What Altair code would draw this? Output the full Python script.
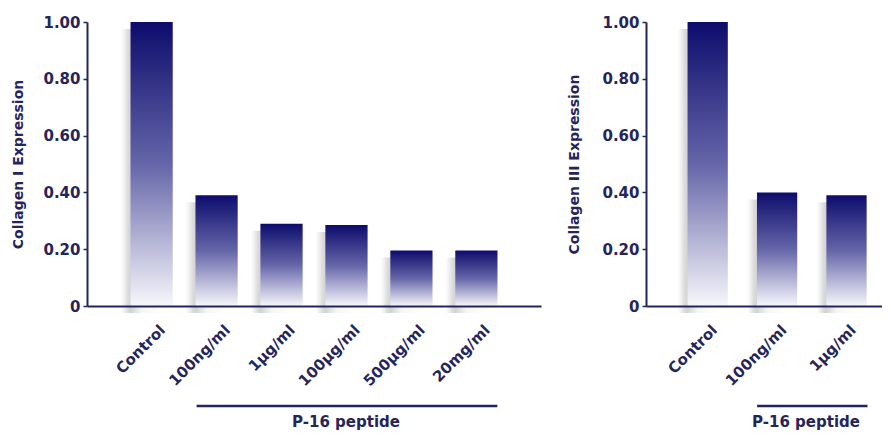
import altair as alt
import pandas as pd

# Relative collagen expression after P-16 peptide treatment
left_categories = ["Control", "100ng/ml", "1µg/ml", "100µg/ml", "500µg/ml", "20mg/ml"]
left_values = [1.00, 0.39, 0.29, 0.285, 0.195, 0.195]

right_categories = ["Control", "100ng/ml", "1µg/ml"]
right_values = [1.00, 0.40, 0.39]

y_ticks = [0, 0.2, 0.4, 0.6, 0.8, 1.0]

NAVY = "#25255a"
FONT = "DejaVu Sans"
PLOT_H = 284

# vertical fade from deep navy to near white inside each bar
bar_fill = {
    "gradient": "linear", "x1": 0, "y1": 0, "x2": 0, "y2": 1,
    "stops": [
        {"offset": 0.0, "color": "#0d0c6c"},
        {"offset": 0.5, "color": "#6565a9"},
        {"offset": 1.0, "color": "#f7f7fc"},
    ],
}
# soft grey drop shadow peeking out on the left of each bar
shadow_fill = {
    "gradient": "linear", "x1": 0, "y1": 0, "x2": 1, "y2": 0,
    "stops": [
        {"offset": 0.0, "color": "#ffffff"},
        {"offset": 0.08, "color": "#f2f2f2"},
        {"offset": 0.16, "color": "#dedede"},
        {"offset": 0.24, "color": "#d3d3d3"},
        {"offset": 0.5, "color": "#f6f6f6"},
        {"offset": 1.0, "color": "#ffffff"},
    ],
}


def panel(categories, values, title, width, pad_inner, pad_outer, align,
          label_offset, bracket, text_x, title_padding):
    df = pd.DataFrame({"treatment": categories, "expression": values})

    x = alt.X(
        "treatment:N", sort=categories,
        scale=alt.Scale(paddingInner=pad_inner, paddingOuter=pad_outer, align=align),
        axis=alt.Axis(
            title=None, labelAngle=-45, labelAlign="right", labelBaseline="top",
            labelOffset=label_offset, labelPadding=16, ticks=False,
            domainWidth=2, domainColor=NAVY, labelFont=FONT, labelFontSize=15,
            labelFontWeight="bold", labelColor=NAVY, grid=False, zindex=1,
        ),
    )
    y = alt.Y(
        "expression:Q",
        scale=alt.Scale(domain=[0, 1], nice=False),
        axis=alt.Axis(
            title=title, values=y_ticks,
            labelExpr="datum.value == 0 ? '0' : format(datum.value, '.2f')",
            domainWidth=2, domainColor=NAVY, tickColor=NAVY, tickSize=4,
            tickWidth=1.5, labelPadding=3, labelFont=FONT, labelFontSize=15,
            labelFontWeight="bold", labelColor=NAVY, titleFont=FONT,
            titleFontSize=14, titleFontWeight="bold", titleColor=NAVY,
            titlePadding=title_padding, grid=False, zindex=1,
        ),
    )

    base = alt.Chart(df).encode(x=x, y=y)
    shadow = base.mark_bar(fill=shadow_fill, xOffset=-10, yOffset=7, y2Offset=4)
    bars = base.mark_bar(fill=bar_fill)

    rule = alt.Chart(pd.DataFrame({"group": ["P-16"]})).mark_rule(
        color=NAVY, strokeWidth=2.5, xOffset=-20, x2Offset=21
    ).encode(
        x=alt.datum(bracket[0]), x2=alt.datum(bracket[1]),
        y=alt.value(PLOT_H + 100),
    )
    label = alt.Chart(pd.DataFrame({"group": ["P-16 peptide"]})).mark_text(
        font=FONT, fontSize=15, fontWeight="bold", color=NAVY,
        align="center", baseline="alphabetic",
    ).encode(text="group:N", x=alt.value(text_x), y=alt.value(PLOT_H + 121))

    return alt.layer(shadow, bars, rule, label).properties(width=width, height=PLOT_H)


left = panel(left_categories, left_values, "Collagen I Expression", 454,
             0.35, 0.67, 0.5, 6, ("100ng/ml", "20mg/ml"), 259, 17)
right = panel(right_categories, right_values, "Collagen III Expression", 236,
              0.42, 0.41, 0.73, 2, ("100ng/ml", "1µg/ml"), 160, 20)

chart = alt.hconcat(left, right, spacing=26).properties(
    padding={"left": 11, "top": 15, "right": 0, "bottom": 0},
    background="white",
).configure_view(stroke=None)

chart.save("out.html", embed_options={"renderer": "svg", "actions": False})
